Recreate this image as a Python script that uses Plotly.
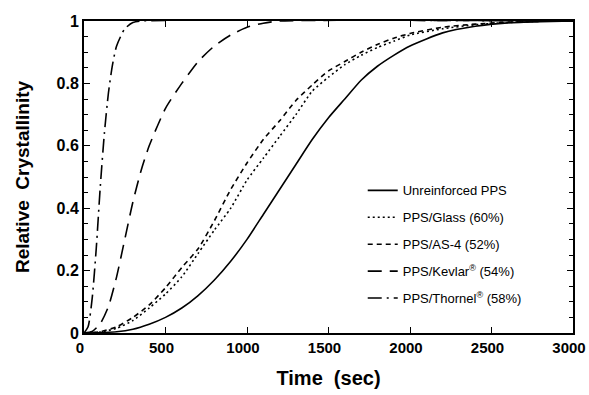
import plotly.graph_objects as go

# Time (sec) and relative crystallinity values
t_unr = [0, 200, 300, 400, 500, 600, 700, 800, 900, 1000, 1100, 1200, 1300, 1400, 1500,
         1600, 1700, 1800, 1900, 2000, 2200, 2400, 2600, 2800, 3000]
x_unr = [0, 0.004, 0.012, 0.028, 0.05, 0.08, 0.12, 0.17, 0.23, 0.30, 0.38, 0.46, 0.54, 0.62, 0.69,
         0.75, 0.81, 0.855, 0.89, 0.92, 0.962, 0.983, 0.994, 0.998, 1.0]

t_glass = [0, 100, 200, 300, 400, 500, 600, 700, 800, 900, 1000, 1100, 1200, 1300, 1400, 1500,
           1600, 1700, 1800, 1900, 2000, 2200, 2400, 2600, 2800, 3000]
x_glass = [0, 0.003, 0.015, 0.04, 0.08, 0.125, 0.18, 0.255, 0.33, 0.40, 0.49, 0.56, 0.63, 0.70, 0.775, 0.82,
           0.86, 0.89, 0.915, 0.935, 0.955, 0.975, 0.988, 0.995, 0.999, 1.0]

t_as4 = [0, 100, 200, 300, 400, 500, 600, 700, 800, 900, 1000, 1100, 1200, 1300, 1400, 1500,
         1600, 1700, 1800, 1900, 2000, 2200, 2400, 2600, 2800, 3000]
x_as4 = [0, 0.004, 0.02, 0.05, 0.09, 0.145, 0.21, 0.27, 0.36, 0.46, 0.545, 0.62, 0.68, 0.745, 0.795, 0.84,
         0.87, 0.90, 0.925, 0.945, 0.96, 0.98, 0.99, 0.996, 0.999, 1.0]

t_kev = [0, 50, 100, 150, 200, 250, 300, 350, 400, 500, 600, 700, 800, 900, 1000, 1100, 1200, 3000]
x_kev = [0, 0.005, 0.03, 0.085, 0.18, 0.30, 0.42, 0.52, 0.60, 0.72, 0.80, 0.87, 0.92, 0.955, 0.98, 0.993, 1.0, 1.0]

t_tho = [0, 25, 50, 75, 100, 125, 150, 175, 200, 250, 300, 350, 3000]
x_tho = [0, 0.02, 0.11, 0.27, 0.47, 0.64, 0.77, 0.86, 0.92, 0.975, 0.995, 1.0, 1.0]

names = ["Unreinforced PPS", "PPS/Glass (60%)", "PPS/AS-4 (52%)",
         "PPS/Kevlar<sup>®</sup> (54%)", "PPS/Thornel<sup>®</sup> (58%)"]
dashes = ["solid", "2px,3px", "5px,4px", "14px,8px", "14px,5px,2px,5px"]

x_ticks = [0, 500, 1000, 1500, 2000, 2500, 3000]
y_ticks = [0, 0.2, 0.4, 0.6, 0.8, 1]
y_tick_text = ["0", "0.2", "0.4", "0.6", "0.8", "1"]

series = [(t_unr, x_unr), (t_glass, x_glass), (t_as4, x_as4), (t_kev, x_kev), (t_tho, x_tho)]

fig = go.Figure()
for i, ((tt, xx), nm, ds) in enumerate(zip(series, names, dashes)):
    fig.add_trace(go.Scatter(x=tt, y=xx, mode="lines", name=nm, legendgroup=f"g{i}",
                             line=dict(color="black", width=1.6, dash=ds, shape="spline", smoothing=0.6)))

FONT = "Liberation Sans, Arial, sans-serif"
fig.update_layout(
    width=589, height=395,
    margin=dict(l=84, r=16, t=21, b=62, autoexpand=False),
    paper_bgcolor="white", plot_bgcolor="white",
    font=dict(family=FONT, color="black"),
    showlegend=True,
    legend=dict(x=0.57, y=0.505, xanchor="left", yanchor="top",
                bgcolor="rgba(0,0,0,0)", font=dict(size=13, color="black"),
                tracegroupgap=7, itemwidth=30),
    xaxis=dict(range=[0, 3000], tickvals=x_ticks, ticktext=[str(v) for v in x_ticks],
               automargin=False,
               showgrid=False, zeroline=False, showline=True, linecolor="black", linewidth=2,
               mirror="ticks", ticks="inside", ticklen=6, tickcolor="black", tickwidth=1.2,
               ticklabeloverflow="allow", ticklabelshift=-4,
               tickfont=dict(family=FONT, size=15, color="black", weight="bold"),
               title=dict(text="Time  (sec)", font=dict(family=FONT, size=20, color="black", weight="bold"),
                          standoff=16)),
    yaxis=dict(range=[0, 1], tickvals=y_ticks, ticktext=y_tick_text,
               automargin=False,
               showgrid=False, zeroline=False, showline=True, linecolor="black", linewidth=2,
               mirror="ticks", ticks="inside", ticklen=6, tickcolor="black", tickwidth=1.2,
               ticklabeloverflow="allow",
               minor=dict(dtick=0.05, ticks="inside", ticklen=4, tickcolor="black", tickwidth=1),
               tickfont=dict(family=FONT, size=16, color="black", weight="bold"),
               title=dict(text="Relative  Crystallinity", font=dict(family=FONT, size=19, color="black",
                                                                    weight="bold"), standoff=22)),
)

fig.write_html("out.html")
